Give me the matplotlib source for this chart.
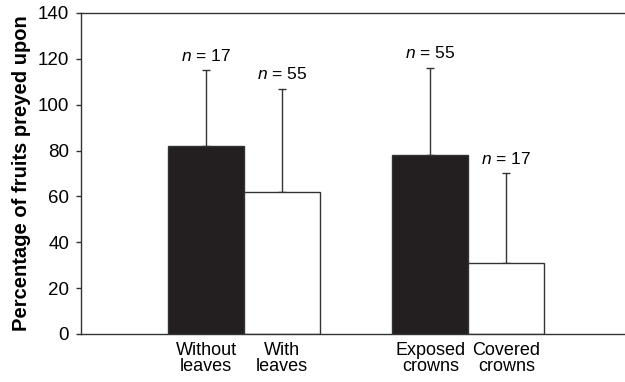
import matplotlib.pyplot as plt

plt.rcParams['font.family'] = ['Liberation Sans', 'DejaVu Sans']
plt.rcParams['mathtext.fontset'] = 'custom'
plt.rcParams['mathtext.it'] = 'Liberation Sans:italic'
plt.rcParams['mathtext.rm'] = 'Liberation Sans'

# data
categories = ['Without\nleaves', 'With\nleaves', 'Exposed\ncrowns', 'Covered\ncrowns']
positions = [0, 1, 2.95, 3.95]
means = [82, 62, 78, 31]
upper_err = [33, 45, 38, 39]
n_labels = ['17', '55', '55', '17']
colors = ['#231f20', 'white', '#231f20', 'white']

fig = plt.figure(figsize=(6.25, 3.82), dpi=100)
ax = fig.add_axes([0.1296, 0.1257, 0.8704, 0.8403])

edge = '#333333'
ax.bar(positions, means, width=1.0, color=colors, edgecolor=edge, linewidth=1.0, zorder=2)
ax.errorbar(positions, means, yerr=[[0] * 4, upper_err], fmt='none',
            ecolor=edge, elinewidth=1.0, capsize=3, capthick=1.0, zorder=1)

for x, m, e, n in zip(positions, means, upper_err, n_labels):
    ax.annotate(r'$\it{n}$' + ' = ' + n, (x, m + e), xytext=(0, 7),
                textcoords='offset points', ha='center', va='baseline', fontsize=12.5)

ax.set_xlim(-1.645, 5.51)
ax.set_ylim(0, 140)
ax.set_yticks(range(0, 141, 20))
ax.set_xticks(positions)
ax.set_xticklabels(categories, fontsize=13, linespacing=0.92)
ax.tick_params(axis='x', length=0, pad=5.5)
ax.tick_params(axis='y', direction='out', length=3.6, width=1, color=edge, labelsize=13.5, pad=5)

ax.spines['right'].set_visible(False)
for s in ['left', 'top', 'bottom']:
    ax.spines[s].set_color(edge)
    ax.spines[s].set_linewidth(1.0)

ax.set_ylabel('Percentage of fruits preyed upon', fontsize=14.5, fontweight='bold', labelpad=5)

fig.savefig('out.png', dpi=100)
